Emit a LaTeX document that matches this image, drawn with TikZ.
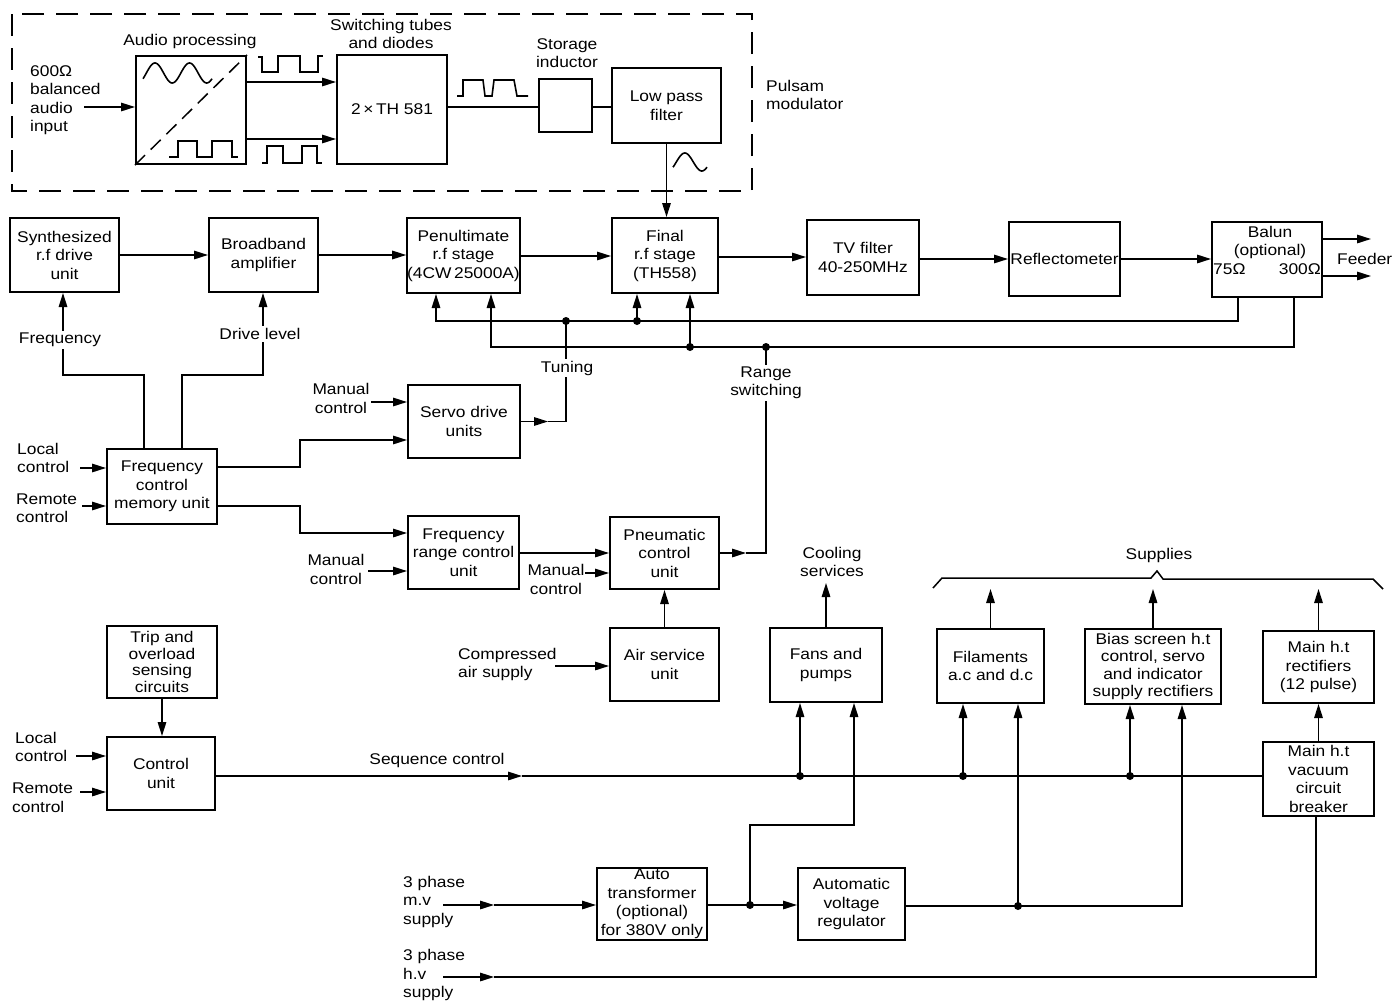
\documentclass[tikz,border=0pt]{standalone}
\usepackage{fontspec}
\setmainfont[FakeStretch=1.12]{Liberation Sans}
\usetikzlibrary{arrows.meta}
\newcommand\dgfont{\fontsize{15.5}{18.5}\selectfont}
\begin{document}
\begin{tikzpicture}[x=1pt,y=-1pt,
  box/.style={draw, line width=2pt, inner sep=0pt, align=center, font=\dgfont},
  arr/.style={-{Triangle[length=14pt,width=8.5pt]}, line width=1.5pt},
  ln/.style={line width=1.5pt},
  wave/.style={line width=1.6pt},
  lbl/.style={inner sep=0pt, align=center, font=\dgfont},
  gap/.style={fill=white, inner sep=2pt, align=center, font=\dgfont},
  dot/.style={circle, fill, inner sep=0pt, minimum size=8pt}]
\useasboundingbox (0,0) rectangle (1400,1001);
\fill[white] (0,0) rectangle (1400,1001);

% ---------- Pulsam modulator ----------
\draw[line width=2pt, dash pattern=on 22pt off 12pt] (12,14) rectangle (752,191);
\node[box, minimum width=110pt, minimum height=108pt] (audio) at (191,110) {};
\node[box, minimum width=110pt, minimum height=109pt] (sw) at (392,109.5) {2\,×\,TH 581};
\node[box, minimum width=53pt, minimum height=53pt] (ind) at (565.5,105.5) {};
\node[box, minimum width=109pt, minimum height=75pt] (lpf) at (666.5,105.5) {Low pass\\filter};

\node[lbl] (laudio) at (190,41) {Audio processing};
\node[lbl] (lsw) at (391,34) {Switching tubes\\and diodes};
\node[lbl] (lind) at (567,53) {Storage\\inductor};
\node[lbl, anchor=west, align=left] (lpuls) at (766,95) {Pulsam\\modulator};
\node[lbl, anchor=west, align=left] (lin) at (30,100) {600Ω\\balanced\\audio\\input};

\draw[line width=1.5pt, dash pattern=on 14pt off 8pt] (audio.south west) -- (audio.north east);
\draw[wave] plot[domain=0:720, samples=90, smooth] ({143+\x/720*69},{73-10*sin(\x-35)});
\draw[wave] (169,157) -- (178,157) -- (178,141) -- (197,141) -- (197,157) -- (212,157) -- (212,141) -- (232,141) -- (232,157) -- (238,157);
\draw[wave] (258,57) -- (262,57) -- (262,72) -- (278,72) -- (278,56) -- (300,56) -- (300,72) -- (318,72) -- (318,56) -- (323,56);
\draw[wave] (262,163) -- (267,163) -- (267,146) -- (283,146) -- (283,163) -- (302,163) -- (302,146) -- (317,146) -- (317,163) -- (322,163);
\draw[wave] (457,96) -- (463,96) -- (463,80) -- (483,80) -- (485,96) -- (492,96) -- (494,80) -- (514,80) -- (517,96) -- (528,96);
\draw[wave] plot[domain=0:360, samples=50, smooth] ({673+\x/360*34},{162-9*sin(\x-35)});

\coordinate (ain) at (84,107);
\draw[arr] (ain) -- (ain -| audio.west);
\draw[arr] (audio.east |- 0,82) -- (sw.west |- 0,82);
\draw[arr] (audio.east |- 0,139) -- (sw.west |- 0,139);
\draw[ln] (sw.east |- 0,107) -- (ind.west |- 0,107);
\draw[ln] (ind.east |- 0,107) -- (lpf.west |- 0,107);

% ---------- RF chain ----------
\node[box, minimum width=109pt, minimum height=74pt] (synth) at (64.5,255) {Synthesized\\r.f drive\\unit};
\node[box, minimum width=109pt, minimum height=74pt] (bb) at (263.5,255) {Broadband\\amplifier};
\node[box, minimum width=111pt, minimum height=75pt] (pen) at (463.5,255.5) {Penultimate\\r.f stage\\(4CW\,25000A)};
\node[box, minimum width=106pt, minimum height=75pt] (fin) at (665,255.5) {Final\\r.f stage\\(TH558)};
\node[box, minimum width=112pt, minimum height=75pt] (tv) at (863,257.5) {TV filter\\40-250MHz};
\node[box, minimum width=111pt, minimum height=74pt] (refl) at (1064.5,259) {Reflectometer};
\node[box, minimum width=110pt, minimum height=75pt] (balun) at (1267,259.5) {};
\node[lbl] (lbal) at (1270,242.5) {Balun\\(optional)};
\node[lbl, anchor=west] (l75) at (1213,269) {75Ω};
\node[lbl, anchor=east] (l300) at (1321,269) {300Ω};
\node[lbl, anchor=west] (lfeed) at (1337,259) {Feeder};

\draw[arr] (lpf.south) -- (lpf.south |- fin.north);
\draw[arr] (synth.east) -- (bb.west);
\draw[arr] (bb.east) -- (pen.west |- bb.east);
\draw[arr] (pen.east |- 0,256) -- (fin.west |- 0,256);
\draw[arr] (fin.east |- 0,257) -- (tv.west |- 0,257);
\draw[arr] (tv.east |- 0,259) -- (refl.west |- 0,259);
\draw[arr] (refl.east) -- (balun.west |- refl.east);
\draw[arr] (balun.east |- 0,239) -- ++(48,0);
\draw[arr] (balun.east |- 0,276) -- ++(48,0);

% buses
\coordinate (t1) at (436,321); \coordinate (t2) at (566,321);
\coordinate (t3) at (637,321); \coordinate (t4) at (1238,321);
\coordinate (r1) at (491,347); \coordinate (r2) at (690,347);
\coordinate (r3) at (766,347); \coordinate (r4) at (1294,347);
\draw[arr] (balun.south -| t4) -- (t4) -- (t1) -- (t1 |- pen.south);
\draw[arr] (t3) -- (t3 |- fin.south);
\draw[arr] (balun.south -| r4) -- (r4) -- (r1) -- (r1 |- pen.south);
\draw[arr] (r2) -- (r2 |- fin.south);
\node[dot] (dt2) at (t2) {};
\node[dot] (dt3) at (t3) {};
\node[dot] (dr2) at (r2) {};
\node[dot] (dr3) at (r3) {};

% ---------- Frequency control ----------
\node[box, minimum width=110pt, minimum height=75pt] (fcmu) at (162,486.5) {Frequency\\control\\memory unit};
\node[box, minimum width=112pt, minimum height=73pt] (servo) at (464,421.5) {Servo drive\\units};
\node[box, minimum width=111pt, minimum height=73pt] (frc) at (463.5,552.5) {Frequency\\range control\\unit};
\node[box, minimum width=109pt, minimum height=72pt] (pneu) at (664.5,553) {Pneumatic\\control\\unit};
\node[box, minimum width=109pt, minimum height=73pt] (air) at (664.5,664.5) {Air service\\unit};

\coordinate (f1) at (144,375); \coordinate (f2) at (63,375);
\coordinate (d1) at (182,375); \coordinate (d2) at (263,375);
\draw[arr] (f1 |- fcmu.north) -- (f1) -- (f2) -- (f2 |- synth.south);
\draw[arr] (d1 |- fcmu.north) -- (d1) -- (d2) -- (d2 |- bb.south);
\node[gap] (lfreq) at (60,340) {Frequency};
\node[gap] (ldrive) at (260,334) {Drive level};

\coordinate (lc1) at (80,468); \coordinate (rc1) at (82,506);
\draw[arr] (lc1) -- (lc1 -| fcmu.west);
\draw[arr] (rc1) -- (rc1 -| fcmu.west);
\node[lbl, anchor=west, align=left] (llc1) at (17,458) {Local\\control};
\node[lbl, anchor=west, align=left] (lrc1) at (16,508) {Remote\\control};

\draw[arr] (fcmu.east |- 0,467) -- (300,467) -- (300,440) -- (servo.west |- 0,440);
\draw[arr] (fcmu.east |- 0,506) -- (300,506) -- (300,533) -- (frc.west |- 0,533);
\coordinate (mc1) at (371,402); \coordinate (mc2) at (368,571); \coordinate (mc3) at (585,573);
\draw[arr] (mc1) -- (mc1 -| servo.west);
\draw[arr] (mc2) -- (mc2 -| frc.west);
\draw[arr] (mc3) -- (mc3 -| pneu.west);
\node[lbl] (lmc1) at (341,398.5) {Manual\\control};
\node[lbl] (lmc2) at (336,569.5) {Manual\\control};
\node[lbl] (lmc3) at (556,579.5) {Manual\\control};
\draw[arr] (frc.east |- 0,553) -- (pneu.west |- 0,553);
\draw[arr] (air.north) -- (pneu.south);
\coordinate (ca) at (555,666);
\draw[arr] (ca) -- (ca -| air.west);
\node[lbl, anchor=west, align=left] (lca) at (458,664.5) {Compressed\\air supply};

% tuning and range switching
\draw[arr] (servo.east) -- ++(27,0) coordinate (s1);
\draw[ln] (s1) -- (t2 |- servo.east) -- (t2);
\draw[arr] (pneu.east) -- ++(26,0) coordinate (p0);
\draw[ln] (p0) -- (r3 |- pneu.east) -- (r3);
\node[gap] (ltun) at (567,368) {Tuning};
\node[gap] (lrange) at (766,383) {Range\\switching};

% ---------- Control / supplies ----------
\node[box, minimum width=110pt, minimum height=72pt, font=\fontsize{15.5}{16.5}\selectfont] (trip) at (162,662) {Trip and\\overload\\sensing\\circuits};
\node[box, minimum width=108pt, minimum height=73pt] (ctrl) at (161,773.5) {Control\\unit};
\node[box, minimum width=112pt, minimum height=74pt] (fans) at (826,665) {Fans and\\pumps};
\node[box, minimum width=107pt, minimum height=74pt] (fil) at (990.5,666) {Filaments\\a.c and d.c};
\node[box, minimum width=136pt, minimum height=75pt, font=\fontsize{15.5}{17.3}\selectfont] (bias) at (1153,666.5) {Bias screen h.t\\control, servo\\and indicator\\supply rectifiers};
\node[box, minimum width=111pt, minimum height=72pt] (mhr) at (1318.5,667) {Main h.t\\rectifiers\\(12 pulse)};
\node[box, minimum width=111pt, minimum height=74pt] (vcb) at (1318.5,779) {Main h.t\\vacuum\\circuit\\breaker};
\node[box, minimum width=110pt, minimum height=72pt] (auto) at (652,904) {Auto\\transformer\\(optional)\\for 380V only};
\node[box, minimum width=107pt, minimum height=72pt] (avr) at (851.5,904) {Automatic\\voltage\\regulator};

\draw[arr] (trip.south) -- (trip.south |- ctrl.north);
\coordinate (lc2) at (76,756); \coordinate (rc2) at (80,792);
\draw[arr] (lc2) -- (lc2 -| ctrl.west);
\draw[arr] (rc2) -- (rc2 -| ctrl.west);
\node[lbl, anchor=west, align=left] (llc2) at (15,747) {Local\\control};
\node[lbl, anchor=west, align=left] (lrc2) at (12,797.5) {Remote\\control};

\draw[arr] (fans.north) -- ++(0,-44);
\node[lbl] (lcool) at (832,562) {Cooling\\services};
\draw[arr] (fil.north) -- ++(0,-39);
\draw[arr] (bias.north) -- ++(0,-39);
\draw[arr] (mhr.north) -- ++(0,-41);
\draw[line width=1.5pt] (933,588) -- (942,578) -- (1151,578) -- (1157,571) -- (1163,579) -- (1373,579) -- (1383,589);
\node[lbl] (lsup) at (1159,555) {Supplies};
\draw[arr] (vcb.north) -- (mhr.south);

% sequence bus
\coordinate (sq) at (522,776);
\draw[arr] (ctrl.east |- sq) -- (sq);
\draw[ln] (sq) -- (sq -| vcb.west);
\node[lbl] (lseq) at (437,760) {Sequence control};
\coordinate (q1) at (800,776); \coordinate (q2) at (963,776); \coordinate (q3) at (1130,776);
\draw[arr] (q1) -- (q1 |- fans.south);
\draw[arr] (q2) -- (q2 |- fil.south);
\draw[arr] (q3) -- (q3 |- bias.south);
\node[dot] (dq1) at (q1) {};
\node[dot] (dq2) at (q2) {};
\node[dot] (dq3) at (q3) {};

% power
\coordinate (mv0) at (443,905); \coordinate (mv1) at (494,905);
\draw[arr] (mv0) -- (mv1);
\draw[arr] (mv1) -- (mv1 -| auto.west);
\coordinate (p1) at (750,905);
\coordinate (fr) at (854,825);
\draw[ln] (auto.east |- p1) -- (p1);
\draw[arr] (p1) -- (p1 -| avr.west);
\draw[arr] (p1) -- (p1 |- fr) -- (fr) -- (fr |- fans.south);
\coordinate (p2) at (1018,906);
\coordinate (br) at (1182,906);
\draw[arr] (avr.east |- p2) -- (p2) -- (br) -- (br |- bias.south);
\draw[arr] (p2) -- (p2 |- fil.south);
\node[dot] (dp1) at (p1) {};
\node[dot] (dp2) at (p2) {};
\coordinate (hv0) at (443,977); \coordinate (hv1) at (494,977);
\coordinate (hv2) at (1316,977);
\draw[arr] (hv0) -- (hv1);
\draw[ln] (hv1) -- (hv2) -- (hv2 |- vcb.south);
\node[lbl, anchor=west, align=left] (lmv) at (403,901.5) {3 phase\\m.v\\supply};
\node[lbl, anchor=west, align=left] (lhv) at (403,975) {3 phase\\h.v\\supply};
\end{tikzpicture}
\end{document}
